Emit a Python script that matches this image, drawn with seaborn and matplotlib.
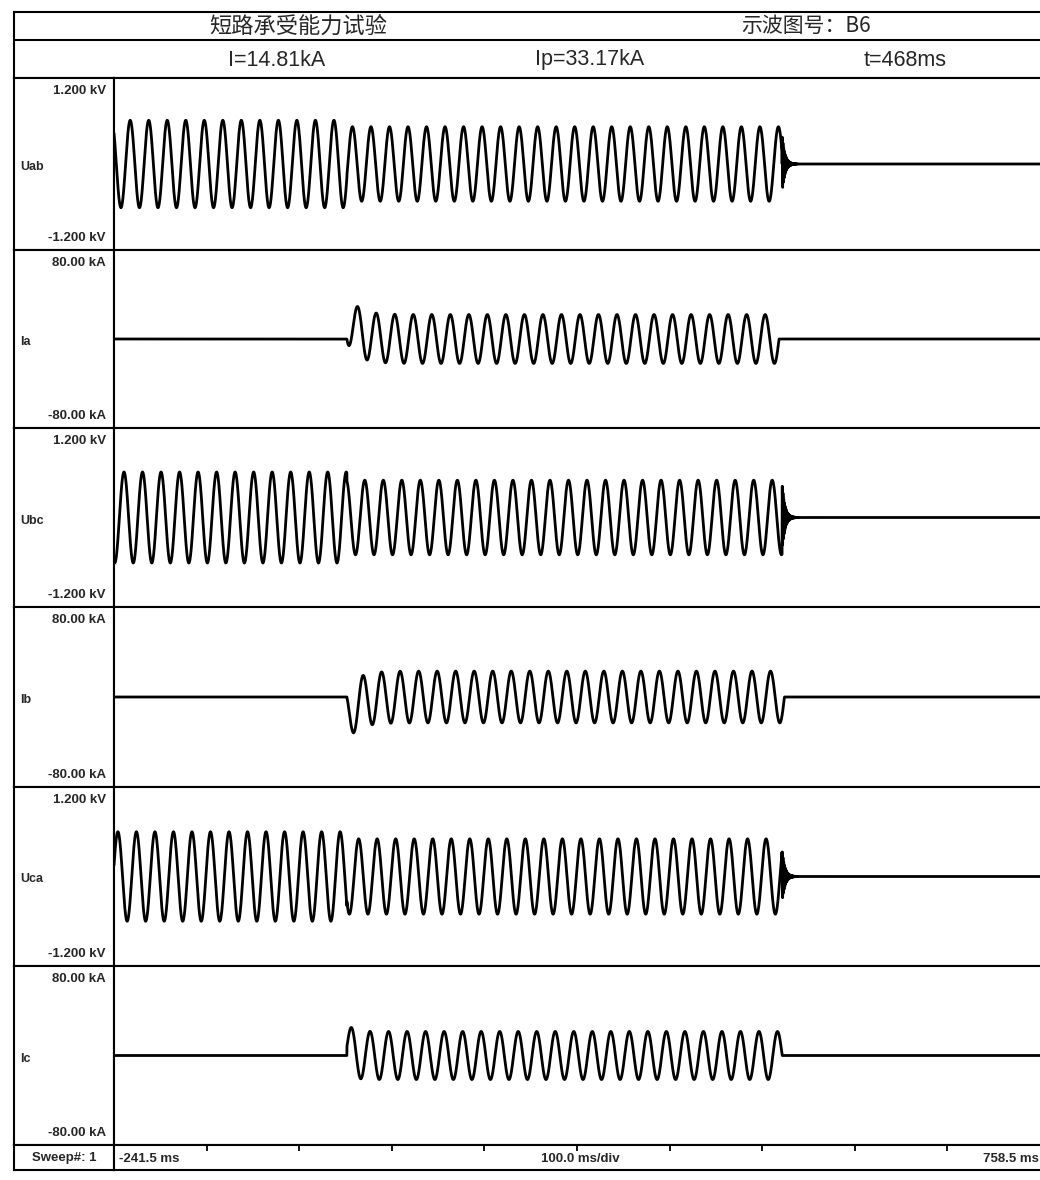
import numpy as np
import matplotlib
matplotlib.use("Agg")
import matplotlib.pyplot as plt
import seaborn as sns

sns.set_theme(style="white")
plt.rcParams['font.family'] = ['Liberation Sans', 'Noto Sans CJK SC', 'DejaVu Sans']

# header texts
title = "短路承受能力试验"
fig_no = "示波图号：B6"
header_vals = ["I=14.81kA", "Ip=33.17kA", "t=468ms"]

# channels, top to bottom
channels = ["Uab", "Ia", "Ubc", "Ib", "Uca", "Ic"]
full_scale = [1.2, 80.0, 1.2, 80.0, 1.2, 80.0]
top_labels = ["1.200 kV", "80.00 kA", "1.200 kV", "80.00 kA", "1.200 kV", "80.00 kA"]
bottom_labels = ["-1.200 kV", "-80.00 kA", "-1.200 kV", "-80.00 kA", "-1.200 kV", "-80.00 kA"]

# time base (ms)
t_start, t_stop = -241.5, 758.5
tick_ms = [-141.5, -41.5, 58.5, 158.5, 258.5, 358.5, 458.5, 558.5, 658.5]
t_on = 10.0      # current on
t_off = 478.0    # current off (468 ms later)
freq = 50.0

# voltages (kV)
volt_amp_pre = [0.61, 0.61, 0.60]
volt_amp_fault = [0.52, 0.50, 0.505]
volt_peak_ms = [-224.0, -230.7, -237.3]
volt_burst = [0.40, 0.45, 0.35]

# currents (kA)
cur_amp = [22.0, 23.0, 21.5]
cur_phase = [-2.1, 2.36, 0.0]
cur_dc = [-0.86, 0.71, -0.37]
cur_tau = [12.0, 12.0, 6.0]

t = np.arange(t_start, t_stop, 0.05)
w = 2 * np.pi * freq / 1000.0


def voltage(k):
    amp = np.where(t < t_on, volt_amp_pre[k], volt_amp_fault[k])
    v = amp * np.cos(w * (t - volt_peak_ms[k]))
    after = t >= t_off + 2
    tau = t[after] - t_off - 2
    v[after] = volt_burst[k] * np.exp(-tau / 3.0) * np.sin(2 * np.pi * 1.3 * tau)
    return v


def current(k):
    i = np.zeros_like(t)
    on = t >= t_on
    tau = t[on] - t_on
    i[on] = cur_amp[k] * (np.sin(w * tau + cur_phase[k]) - cur_dc[k] * np.exp(-tau / cur_tau[k]))
    # breaker clears at the first current zero after t_off - 4 ms
    idx = np.where(t >= t_off - 4)[0][0]
    sgn = np.sign(i[idx:])
    cross = np.where(sgn != sgn[0])[0][0]
    i[idx + cross:] = 0.0
    return i


traces = [voltage(0), current(0), voltage(1), current(1), voltage(2), current(2)]

W, H = 1040, 1180
fig = plt.figure(figsize=(W / 100, H / 100), dpi=100)
fig.patch.set_facecolor("white")


def rect(x0, y0, x1, y1):
    return [x0 / W, 1 - y1 / H, (x1 - x0) / W, (y1 - y0) / H]


LW = 1.5
left_x, div_x, right_x = 14, 114, 1040
small = 9.5

# header
axh = fig.add_axes(rect(left_x, 12, right_x, 78))
axh.set_xlim(left_x, right_x)
axh.set_ylim(78, 12)
axh.set_xticks([])
axh.set_yticks([])
for s in ["left", "top", "bottom"]:
    axh.spines[s].set_linewidth(LW)
    axh.spines[s].set_color("black")
axh.spines["right"].set_visible(False)
axh.axhline(40, color="black", lw=LW)
axh.text(298, 26, title, ha="center", va="center", fontsize=16, family=['Noto Sans CJK SC'])
axh.text(806, 26, fig_no, ha="center", va="center", fontsize=15, family=['Noto Sans CJK SC', 'Liberation Sans'])
for x, s in zip([277, 590, 905], header_vals):
    axh.text(x, 60, s, ha="center", va="center", fontsize=15.5)

bounds = [78, 250, 428, 607, 787, 966, 1145]
for k, name in enumerate(channels):
    y0, y1 = bounds[k], bounds[k + 1]
    axl = fig.add_axes(rect(left_x, y0, div_x, y1))
    axl.set_xlim(left_x, div_x)
    axl.set_ylim(y1, y0)
    axl.set_xticks([])
    axl.set_yticks([])
    for s in axl.spines.values():
        s.set_linewidth(LW)
        s.set_color("black")
    axl.text(106, y0 + 13, top_labels[k], ha="right", va="center", fontsize=small, fontweight="bold")
    axl.text(106, y1 - 12, bottom_labels[k], ha="right", va="center", fontsize=small, fontweight="bold")
    axl.text(20, (y0 + y1) / 2 + 3, name, ha="left", va="center", fontsize=small - 0.5, fontweight="bold")

    ax = fig.add_axes(rect(div_x, y0, right_x, y1))
    sns.lineplot(x=t, y=traces[k], ax=ax, color="black", linewidth=2.0, estimator=None, sort=False)
    ax.set_xlim(t_start, t_stop)
    ax.set_ylim(-full_scale[k], full_scale[k])
    ax.set_xticks([])
    ax.set_yticks([])
    ax.set_xlabel("")
    ax.set_ylabel("")
    for s in ["left", "top", "bottom"]:
        ax.spines[s].set_linewidth(LW)
        ax.spines[s].set_color("black")
    ax.spines["right"].set_visible(False)

# sweep row
axs_l = fig.add_axes(rect(left_x, 1145, div_x, 1170))
axs_l.set_xticks([])
axs_l.set_yticks([])
for s in axs_l.spines.values():
    s.set_linewidth(LW)
    s.set_color("black")
axs_l.text(0.5, 0.5, "Sweep#: 1", ha="center", va="center", fontsize=small, fontweight="bold",
           transform=axs_l.transAxes)

axs = fig.add_axes(rect(div_x, 1145, right_x, 1170))
axs.set_xlim(t_start, t_stop)
axs.set_ylim(0, 1)
axs.set_yticks([])
axs.xaxis.tick_top()
axs.set_xticks(tick_ms)
axs.tick_params(axis="x", direction="in", length=4, width=1.3, color="black", labeltop=False, top=True)
for s in ["left", "top", "bottom"]:
    axs.spines[s].set_linewidth(LW)
    axs.spines[s].set_color("black")
axs.spines["right"].set_visible(False)
axs.text(t_start + 5, 0.45, f"{t_start} ms", ha="left", va="center", fontsize=small, fontweight="bold")
axs.text(262, 0.45, "100.0 ms/div", ha="center", va="center", fontsize=small, fontweight="bold")
axs.text(t_stop - 1, 0.45, f"{t_stop} ms", ha="right", va="center", fontsize=small, fontweight="bold")

plt.savefig("out.png", dpi=100, facecolor="white")
